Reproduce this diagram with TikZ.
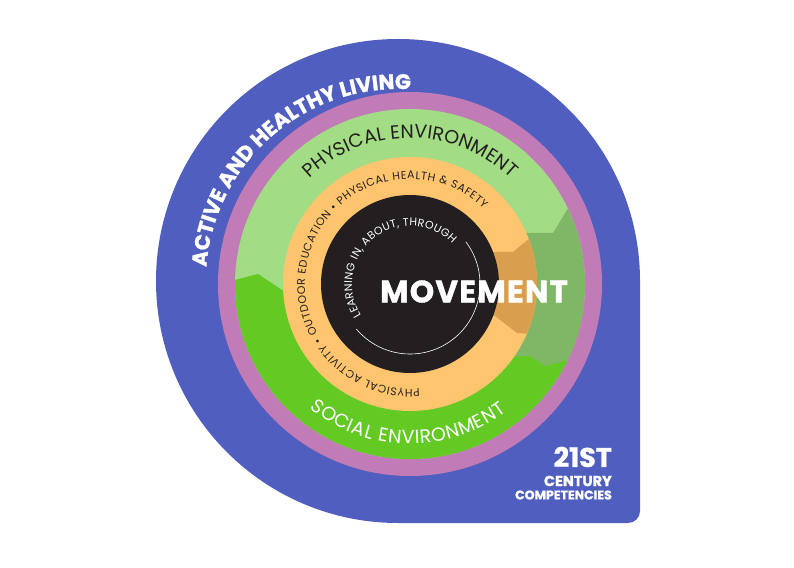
\documentclass[tikz,border=0pt]{standalone}
\usepackage{fontspec}
\setmainfont{Poppins}
\newfontfamily\heavyfont[FakeBold=1.2]{Poppins}
\usepackage{xcolor}
\usepackage{tikz}
\usetikzlibrary{decorations.text,positioning}
\definecolor{ringblue}{HTML}{505FBF}
\definecolor{mauve}{HTML}{C17BB7}
\definecolor{leaf}{HTML}{A2DC84}
\definecolor{lime}{HTML}{63C923}
\definecolor{moss}{HTML}{80B766}
\definecolor{apricot}{HTML}{FEC56E}
\definecolor{amber}{HTML}{D99F4E}
\definecolor{ink}{HTML}{231F20}

\begin{document}
\begin{tikzpicture}[x=1pt,y=1pt,
  arctext/.style={decorate,decoration={text along path,text align=center,text={#1}}},
  corner/.style={anchor=east,text=white,inner sep=0pt}]
\useasboundingbox (0,0) rectangle (794,567);
\coordinate (b) at (398,286);
\coordinate (c) at (410,283);
% outer drop
\fill[ringblue] (b) ++(0:242) arc[start angle=0,end angle=270,radius=242]
  [rounded corners=12] -- (640,44) [sharp corners] -- cycle;
\fill[mauve] (c) circle (192);
\fill[leaf] (c) circle (175);
\begin{scope}
  \clip (c) circle (175);
  \fill[lime] (200,278) -- (258,293) -- (300,265) -- (620,265) -- (620,80) -- (200,80) -- cycle;
  \fill[moss] (515,334) -- (553,334) -- (570,362) -- (640,362) -- (640,205)
    -- (568,207) -- (545,201) -- (530,211) -- (515,211) -- cycle;
\end{scope}
\fill[apricot] (c) circle (127);
\begin{scope}
  \clip (c) circle (127);
  \fill[amber] (480,315) -- (513,315) -- (530,329) -- (545,329) -- (545,232)
    -- (517,234) -- (495,251) -- (480,251) -- cycle;
\end{scope}
\fill[ink] (c) circle (89);
\draw[white,line width=0.6pt] (c) ++(37:70) arc[start angle=37,end angle=-140,radius=70];

% ring labels
\path[arctext={|\heavyfont\bfseries\fontsize{21}{21}\selectfont\color{white}|ACTIVE AND HEALTHY LIVING}]
  (b) ++(200:192) arc[start angle=200,end angle=62,radius=192];
\path[arctext={|\fontsize{19}{19}\selectfont\color{ink}|PHYSICAL ENVIRONMENT}]
  (c) ++(170:146) arc[start angle=170,end angle=10,radius=146];
\path[arctext={|\fontsize{19}{19}\selectfont\color{white}\kern0.6pt|SOCIAL ENVIRONMENT}]
  (c) ++(189:160) arc[start angle=189,end angle=349,radius=160];
\path[arctext={|\fontsize{11}{11}\selectfont\color{ink}\kern0.6pt|PHYSICAL ACTIVITY {\textbullet} OUTDOOR EDUCATION {\textbullet} PHYSICAL HEALTH {\&} SAFETY}]
  (c) ++(340:105) arc[start angle=340,end angle=-19,radius=105];
\path[arctext={|\fontsize{11}{11}\selectfont\color{white}\kern0.3pt|LEARNING IN, ABOUT, THROUGH}]
  (c) ++(250:58) arc[start angle=250,end angle=6,radius=58];

\node[text=white,inner sep=0pt,font=\heavyfont\bfseries\fontsize{31}{31}\selectfont\addfontfeature{LetterSpace=4}] (move) at (474,275.5) {MOVEMENT};

\node[corner,font=\heavyfont\bfseries\fontsize{27}{27}\selectfont] (twentyone) at (612,110) {21ST};
\node[corner,font=\heavyfont\bfseries\fontsize{14.5}{14.5}\selectfont] (century) at (612,86) {CENTURY};
\node[corner,font=\heavyfont\bfseries\fontsize{12.5}{12.5}\selectfont] (compet) at (612,72) {COMPETENCIES};
\end{tikzpicture}
\end{document}
